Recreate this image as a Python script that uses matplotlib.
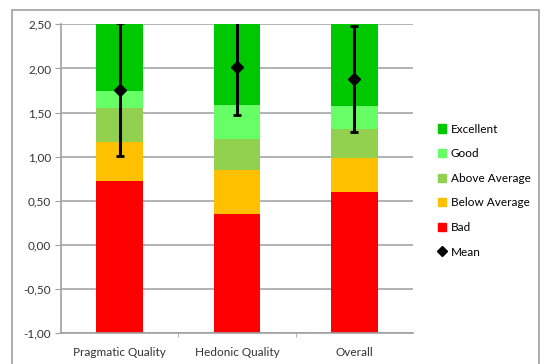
import numpy as np
from matplotlib import pyplot as plt
from matplotlib.patches import Rectangle, Patch
from matplotlib.lines import Line2D
from matplotlib.ticker import FuncFormatter

categories = ["Pragmatic Quality", "Hedonic Quality", "Overall"]
bad = [0.72, 0.35, 0.60]
below_average = [1.17, 0.85, 0.98]
above_average = [1.55, 1.20, 1.31]
good = [1.74, 1.59, 1.58]
excellent = [2.50, 2.50, 2.50]
mean = [1.76, 2.02, 1.88]
err_low = [1.01, 1.47, 1.28]

bands = [
    ("Bad", bad, "#ff0000"),
    ("Below Average", below_average, "#ffc000"),
    ("Above Average", above_average, "#92d050"),
    ("Good", good, "#66ff66"),
    ("Excellent", excellent, "#00c800"),
]

plt.rcParams["font.family"] = ["Lato", "DejaVu Sans"]

fig = plt.figure(figsize=(5.44, 3.64), dpi=100)
ax = fig.add_axes([61 / 544, 30.7 / 364, 352 / 544, 309 / 364])

x = np.arange(len(categories))
base = np.full(len(categories), -1.0)
for name, top, color in bands:
    top = np.array(top)
    ax.bar(x, top - base, bottom=base, width=0.4, color=color, zorder=2)
    base = top

m = np.array(mean)
e = m - np.array(err_low)
ax.errorbar(x, m, yerr=e, fmt="D", color="black", ms=6.5, lw=2.2,
            capsize=3, capthick=2, zorder=4)

ax.set_xlim(-0.5, 2.5)
ax.set_ylim(-1.0, 2.5)
ax.set_yticks(np.arange(-1.0, 2.51, 0.5))
ax.yaxis.set_major_formatter(FuncFormatter(lambda v, p: f"{v:.2f}".replace(".", ",")))
ax.set_xticks(x)
ax.set_xticklabels(categories)
ax.set_xticks([0.5, 1.5], minor=True)
ax.tick_params(axis="x", which="major", length=0, pad=10)
ax.tick_params(axis="x", which="minor", length=3, color="#a0a0a0")
ax.tick_params(axis="y", length=4, color="#a0a0a0", pad=3)
ax.tick_params(labelsize=8.5, labelcolor="#333333")
ax.grid(axis="y", color="#a6a6a6", lw=1.2, zorder=0)
for s in ["top", "right"]:
    ax.spines[s].set_visible(False)
for s in ["left", "bottom"]:
    ax.spines[s].set_color("#a0a0a0")
    ax.spines[s].set_linewidth(1.2)

handles = [Patch(color=c, label=n) for n, _, c in reversed(bands)]
handles.append(Line2D([], [], marker="D", color="black", ls="none", ms=5, label="Mean"))
fig.legend(handles=handles, loc="upper left", bbox_to_anchor=(427 / 544, 1 - 113 / 364),
           frameon=False, fontsize=8.5, handlelength=0.7, handleheight=0.7,
           handletextpad=0.4, labelspacing=1.15)

fig.patches.append(Rectangle((12 / 544, -0.1), 527 / 544, 1.1 - 10 / 364,
                             transform=fig.transFigure, fill=False,
                             edgecolor="#a0a0a0", lw=1.2))

fig.savefig("out.png", dpi=100)
